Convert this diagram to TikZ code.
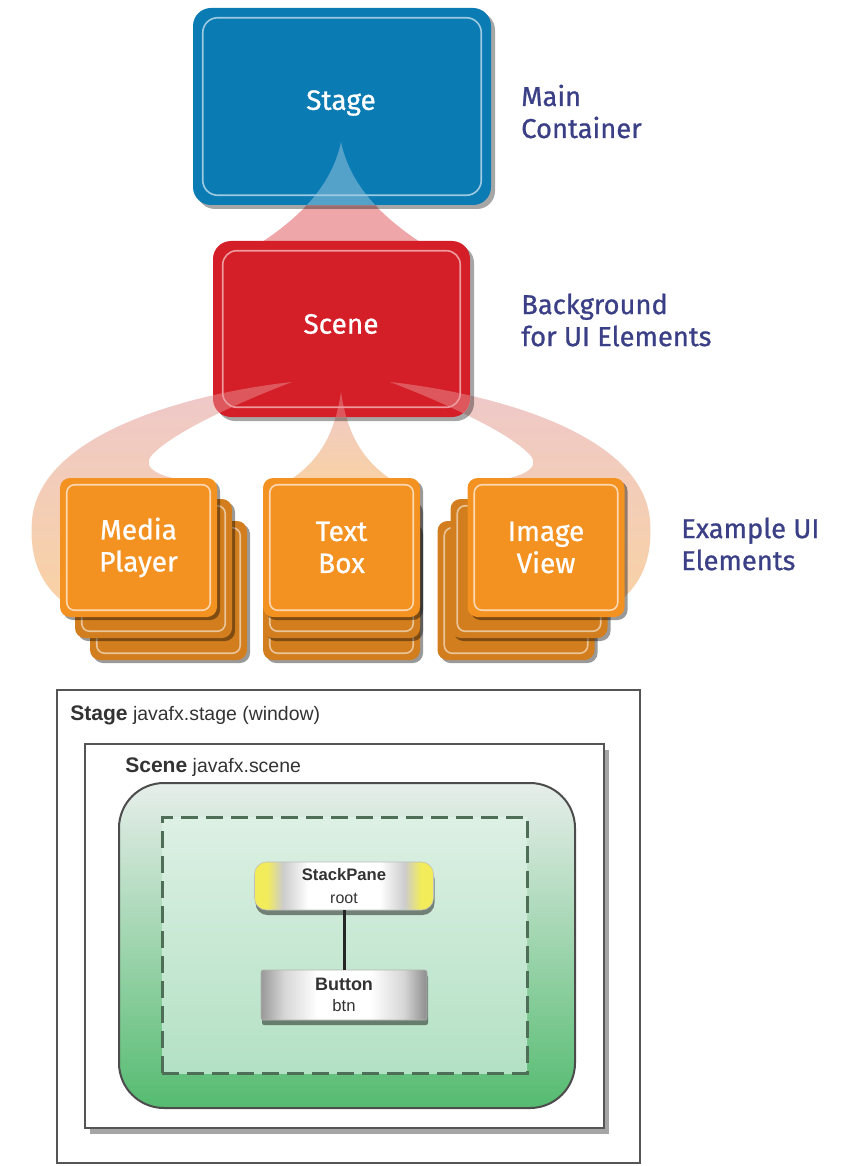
\documentclass[tikz,border=0pt]{standalone}
\usepackage{fontspec}
\newfontfamily\fira[FakeBold=0.8]{Fira Sans}
\newfontfamily\helv{Liberation Sans}
\usetikzlibrary{shadows}
\newlength\pxu \setlength\pxu{0.75pt}
\definecolor{stageblue}{HTML}{0B7BB4}
\definecolor{scenered}{HTML}{D41F28}
\definecolor{orangeA}{HTML}{F39121}
\definecolor{orangeB}{HTML}{D27E1E}
\definecolor{navy}{HTML}{3A3F86}
\definecolor{fanpink}{HTML}{EEA6A9}
\definecolor{fanrose}{HTML}{EEC8CA}
\definecolor{fanpeach}{HTML}{F9D2A4}
\definecolor{greentop}{HTML}{E7EEEB}
\definecolor{greenmid}{HTML}{A9DBB8}
\definecolor{greenbot}{HTML}{55BB70}
\definecolor{dashfillA}{HTML}{DDF0E4}
\definecolor{dashfillB}{HTML}{B3E1C4}
\definecolor{dashcol}{HTML}{4E6E57}
\definecolor{framegray}{HTML}{555555}
\definecolor{txtgray}{HTML}{333333}
\definecolor{pillyellow}{HTML}{F2EC5A}
\pgfdeclarehorizontalshading{pillshade}{100bp}{color(0bp)=(pillyellow); color(25bp)=(pillyellow); color(28.5bp)=(pillyellow); color(33bp)=(black!20); color(40bp)=(white); color(60bp)=(white); color(67bp)=(black!20); color(71.5bp)=(pillyellow); color(75bp)=(pillyellow); color(100bp)=(pillyellow)}
\pgfdeclarehorizontalshading{btnshade}{100bp}{color(0bp)=(black!40); color(25bp)=(black!40); color(32bp)=(black!16); color(42bp)=(white); color(58bp)=(white); color(68bp)=(black!16); color(75bp)=(black!45); color(100bp)=(black!45)}
\tikzset{
  shad/.style={drop shadow={shadow xshift=4\pxu, shadow yshift=-4\pxu, opacity=0.35, fill=black}},
  bigbox/.style={rounded corners=18\pxu, inner sep=0, shad},
  obox/.style={rounded corners=10\pxu, inner sep=0, minimum width=157\pxu, minimum height=139\pxu,
     drop shadow={shadow xshift=3\pxu, shadow yshift=-3\pxu, opacity=0.4, fill=black}},
  ofront/.style={obox, fill=orangeA, text=white, align=center, font=\fira\fontsize{21}{24}\selectfont},
  oback/.style={obox, fill=orangeB},
  boxlbl/.style={font=\fira\fontsize{21}{24}\selectfont, text=white, inner sep=0},
  sidelbl/.style={font=\fira\fontsize{20.5}{24}\selectfont, text=navy, align=left, anchor=west, inner sep=0},
  fanApath/.style={insert path={(341,142) .. controls (332,185) and (300,220) .. (246,252) -- (436,252) .. controls (382,220) and (350,185) .. (341,142) -- cycle}},
  fanBpath/.style={insert path={(341,392) .. controls (334,440) and (315,465) .. (284,484) -- (398,484) .. controls (367,465) and (348,440) .. (341,392) -- cycle}},
  fanCpath/.style={insert path={(292,382) .. controls (200,392) and (40,430) .. (32,520) .. controls (28,570) and (50,595) .. (75,610) -- (150,560) -- (205,482) .. controls (160,480) and (140,468) .. (152,455) .. controls (175,430) and (250,398) .. (292,382) -- cycle}},
  fanDpath/.style={insert path={(390,382) .. controls (482,392) and (642,430) .. (650,520) .. controls (654,570) and (632,595) .. (607,610) -- (532,560) -- (477,482) .. controls (522,480) and (542,468) .. (530,455) .. controls (507,430) and (432,398) .. (390,382) -- cycle}},
  winlbl/.style={anchor=base west, inner sep=0, text=txtgray, font=\helv\fontsize{14.6}{17}\selectfont},
  chip/.style={inner sep=0, text=txtgray, align=center,
     drop shadow={shadow xshift=1\pxu, shadow yshift=-5\pxu, opacity=0.45, fill=black}},
}
\newcommand\innerframe[4]{%
  \draw[#4, line width=1.6\pxu, rounded corners=#3\pxu] ([shift={(#2,#2)}]#1.north west) rectangle ([shift={(-#2,-#2)}]#1.south east);}
\begin{document}
\begin{tikzpicture}[x=0.75pt,y=-0.75pt]
\useasboundingbox (0,0) rectangle (851,1166);
% ---- fans (under the boxes)
\fill[fanpink, fanApath];
\shade[top color=fanrose, bottom color=fanpeach, fanBpath];
\shade[top color=fanrose, bottom color=fanpeach, fanCpath];
\shade[top color=fanrose, bottom color=fanpeach, fanDpath];
% ---- Stage and Scene boxes
\node[bigbox, fill=stageblue, minimum width=298\pxu, minimum height=197\pxu] (stage) at (342,106.5) {};
\node[bigbox, fill=scenered, minimum width=257\pxu, minimum height=176\pxu] (scene) at (341.5,329) {};
\begin{scope}
  \clip[rounded corners=18\pxu] (stage.north west) rectangle (stage.south east);
  \fill[white, opacity=0.3, fanApath];
\end{scope}
\begin{scope}
  \clip[rounded corners=18\pxu] (scene.north west) rectangle (scene.south east);
  \fill[white, opacity=0.25, fanBpath];
  \fill[white, opacity=0.25, fanCpath];
  \fill[white, opacity=0.25, fanDpath];
\end{scope}
\innerframe{stage}{10}{15}{white!60!stageblue}
\innerframe{scene}{10}{14}{white!55!scenered}
\node[boxlbl] (stagelbl) at (341,103) {Stage};
\node[boxlbl] (scenelbl) at (341,324) {Scene};
% ---- UI element stacks
\node[oback] (mp3) at (168.5,590.5) {};
\innerframe{mp3}{7}{8}{white!55!orangeB}
\node[oback] (mp2) at (153.5,568.5) {};
\innerframe{mp2}{7}{8}{white!55!orangeB}
\node[ofront] (mp) at (138.5,547.5) {Media\\Player};
\innerframe{mp}{7}{8}{white!65!orangeA}
\node[oback] (tb3) at (341.5,590.5) {};
\innerframe{tb3}{7}{8}{white!55!orangeB}
\node[oback] (tb2) at (341.5,568.5) {};
\innerframe{tb2}{7}{8}{white!55!orangeB}
\node[ofront] (tb) at (341.5,547.5) {Text\\Box};
\innerframe{tb}{7}{8}{white!65!orangeA}
\node[oback] (iv3) at (516,590.5) {};
\innerframe{iv3}{7}{8}{white!55!orangeB}
\node[oback] (iv2) at (529,568.5) {};
\innerframe{iv2}{7}{8}{white!55!orangeB}
\node[ofront] (iv) at (546,547.5) {Image\\View};
\innerframe{iv}{7}{8}{white!65!orangeA}
% ---- side labels
\node[sidelbl] (lblmain) at (521,111.5) {Main\\Container};
\node[sidelbl] (lblbg) at (521,320) {Background\\for UI Elements};
\node[sidelbl] (lblex) at (681,544) {Example UI\\Elements};
% ---- lower diagram
\node[draw=framegray, line width=1.5\pxu, minimum width=583\pxu, minimum height=473\pxu, inner sep=0] (win) at (348.5,926.5) {};
\node[winlbl] (winlabel) at (70,720) {{\fontsize{15.8}{18}\selectfont\bfseries Stage} javafx.stage (window)};
\node[draw=framegray, line width=1.5\pxu, fill=white, minimum width=519\pxu, minimum height=384\pxu, inner sep=0,
      drop shadow={shadow xshift=5\pxu, shadow yshift=-6\pxu, opacity=0.5, fill=black!70}] (scn) at (344.5,936) {};
\node[winlbl] (scnlabel) at (125,772) {{\fontsize{15.8}{18}\selectfont\bfseries Scene} javafx.scene};
\node[draw=black!70, line width=2\pxu, rounded corners=45\pxu, top color=greentop, middle color=greenmid, bottom color=greenbot,
      minimum width=456\pxu, minimum height=325\pxu, inner sep=0] (grp) at (347,945.5) {};
\node[draw=dashcol, line width=3\pxu, dash pattern=on 17\pxu off 8\pxu, top color=dashfillA, bottom color=dashfillB,
      minimum width=365\pxu, minimum height=256\pxu, inner sep=0] (pane) at (344.5,945) {};
\node[chip, rounded corners=12\pxu, shading=pillshade, draw=black!25, minimum width=179\pxu, minimum height=48\pxu,
      font=\helv\fontsize{12}{17.5}\selectfont] (sp) at (344,886) {{\fontsize{12.5}{15}\selectfont\bfseries StackPane}\\root};
\node[chip, rounded corners=2\pxu, shading=btnshade, draw=black!30, minimum width=166\pxu, minimum height=50\pxu,
      font=\helv\fontsize{12.5}{16}\selectfont] (btn) at (344,995) {{\fontsize{13.5}{16}\selectfont\bfseries Button}\\btn};
\draw[line width=3\pxu, black!85] (sp.south) -- (btn.north);
\end{tikzpicture}
\end{document}
